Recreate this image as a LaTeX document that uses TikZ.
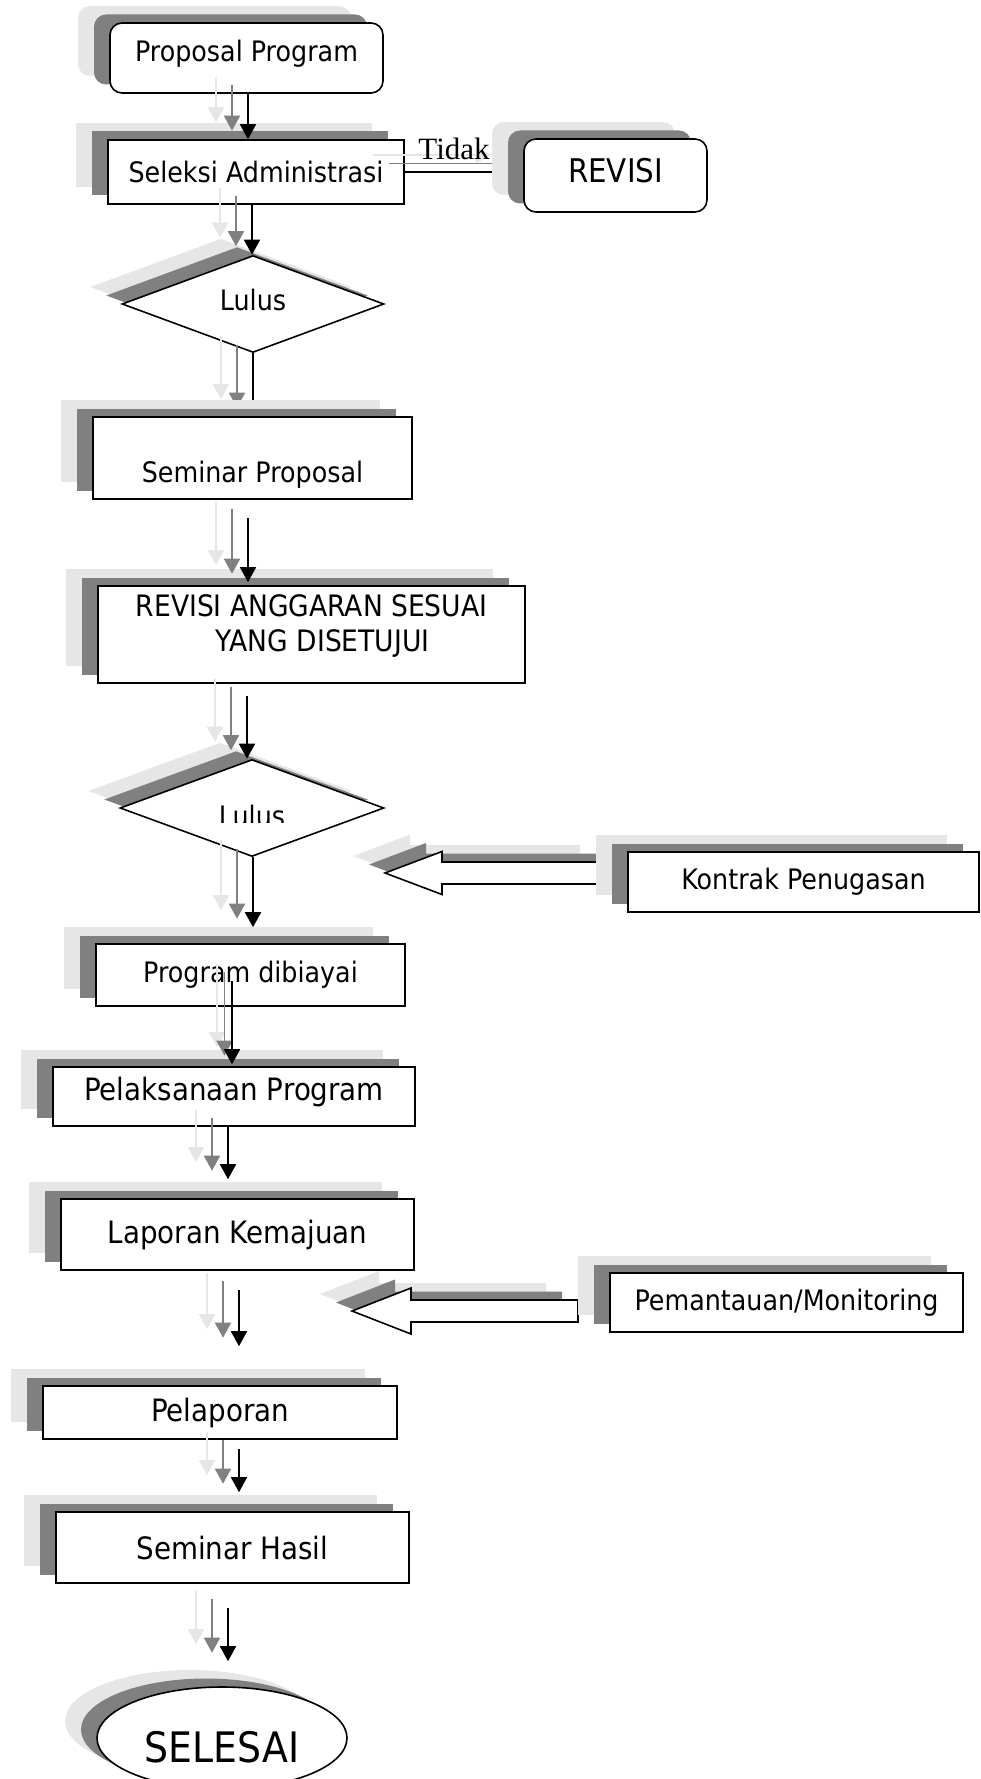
\documentclass[tikz,border=0pt]{standalone}
\usepackage{fontspec}
\setmainfont{DejaVu Sans}[FakeStretch=0.9]
\newfontfamily\tidakfont{Liberation Serif}
\usetikzlibrary{shapes.geometric,shadows,arrows.meta}
\definecolor{shlight}{RGB}{230,230,230}
\definecolor{shdark}{RGB}{128,128,128}
\pgfdeclarelayer{front}
\pgfsetlayers{main,front}

\tikzset{
  shadowed/.style={
    general shadow={fill=shlight,draw=none,shadow xshift=-32pt,shadow yshift=17pt},
    general shadow={fill=shdark,draw=none,shadow xshift=-16pt,shadow yshift=8.5pt},
    draw=black,fill=white,line width=1.6pt},
  box/.style={shadowed,rectangle,inner sep=0pt,font=\fontsize{28.2}{34}\selectfont},
  bigbox/.style={box,font=\fontsize{30.8}{37}\selectfont},
  rbox/.style={box,rounded corners=12pt},
  decision/.style={shadowed,diamond,inner sep=0pt,font=\fontsize{28.2}{34}\selectfont},
  terminal/.style={shadowed,ellipse,inner sep=0pt,font=\fontsize{42}{50}\selectfont},
  arr/.style={line width=1.8pt,-{Triangle[width=16pt,length=15pt]}}
}

% panah bertumpuk: abu muda, abu tua, hitam
\newcommand{\panah}[4][16]{%
  \coordinate (s) at (#2);
  \foreach \col/\k in {shlight/2,shdark/1,black/0}
    \draw[arr,color=\col,shorten >=#4,
      transform canvas={shift={(-\k*#1,-\k*8.5)}}] (s) -- (s |- #3);
}
% panah blok ke kiri
\newcommand{\blokpanah}[5]{%
  \draw[shadowed] (#1,#2) -- (#3,#2-#5) -- (#3,#2-11) -- (#4,#2-11)
    -- (#4,#2+11) -- (#3,#2+11) -- (#3,#2+#5) -- cycle;
}

\begin{document}
\begin{tikzpicture}[x=1pt,y=-1pt]
\useasboundingbox (0,0) rectangle (980,1779);

% alur utama
\node[rbox,minimum width=273pt,minimum height=70pt,text height=21.4pt,text depth=13.7pt] (prop) at (246.5,58) {Proposal Program};
\node[box,minimum width=296pt,minimum height=64pt] (selek) at (256,172) {Seleksi Administrasi};
\node[decision,minimum width=262pt,minimum height=97pt,text height=21pt,text depth=9pt] (lulusa) at (253,304) {Lulus};
\node[box,minimum width=427pt,minimum height=97pt,
      label={[yshift=9pt,align=center,inner sep=0pt,font=\fontsize{29.5}{35}\selectfont]center:
      REVISI ANGGARAN SESUAI\\ \hspace*{22pt}YANG DISETUJUI}] (revang) at (311.5,634.5) {};
\node[decision,minimum width=264pt,minimum height=97pt] (lulusb) at (252,808) {};
\begin{scope}
  \clip (200,780) rectangle (305,822);
  \node[font=\fontsize{28.2}{34}\selectfont,inner sep=0pt,anchor=base] (lulusbtext) at (252,826) {Lulus};
\end{scope}
\node[box,minimum width=309pt,minimum height=62pt] (dib) at (250.5,975) {Program dibiayai};
\node[bigbox,minimum width=362pt,minimum height=59pt,text height=22.5pt,text depth=14pt] (pelak) at (234,1096.5) {Pelaksanaan Program};
\node[bigbox,minimum width=353pt,minimum height=71pt] (lap) at (237.5,1234.5) {Laporan Kemajuan};
\node[bigbox,minimum width=354pt,minimum height=53pt] (pelap) at (220,1412.5) {Pelaporan};
\node[bigbox,minimum width=353pt,minimum height=71pt] (semh) at (232.5,1547.5) {Seminar Hasil};
\node[terminal,minimum width=250pt,minimum height=102pt,text height=48pt,text depth=0pt] (selesai) at (222,1738) {SELESAI};

% masukan dari samping
\blokpanah{385}{873}{442}{612}{21.5}
\blokpanah{352}{1311}{411}{578}{23}
\node[box,minimum width=353pt,minimum height=59pt] (pemantau) at (786.5,1302.5) {Pemantauan/Monitoring};

\begin{pgfonlayer}{front}
\node[rbox,minimum width=183pt,minimum height=73pt,text height=23.8pt,text depth=10pt,
      font=\fontsize{32.6}{39}\selectfont] (revisi) at (615.5,175.5) {REVISI};
\node[box,minimum width=319pt,minimum height=82pt,text height=48pt,text depth=0pt] (sem) at (252.5,458) {Seminar Proposal};
\node[box,minimum width=351pt,minimum height=60pt] (kontrak) at (803.5,882) {Kontrak Penugasan};
\end{pgfonlayer}

% penghubung
\panah{[xshift=1.5pt]prop.south}{selek.north}{0pt}
\panah{[xshift=-4pt]selek.south}{lulusa.north}{0pt}
\foreach \col/\k in {shlight/2,shdark/1,black/0}
  \draw[arr,color=\col,transform canvas={shift={(-\k*16,-\k*8.5)}}]
    (selek.east) -- (selek.east -| revisi.west);
\node[font=\tidakfont\fontsize{31}{36}\selectfont,inner sep=0pt,anchor=base] (tidak) at (454,160) {Tidak};
\panah{lulusa.south}{sem.north}{0pt}
\panah{[xshift=-4.5pt,yshift=-18pt]sem.south}{revang.north}{3pt}
\panah{[xshift=-64.5pt,yshift=-12pt]revang.south}{lulusb.north}{0pt}
\panah{[xshift=1pt]lulusb.south}{dib.north}{16pt}
\panah[7.5]{[xshift=-18.5pt,yshift=26pt]dib.south}{pelak.north}{2pt}
\panah{[xshift=-6pt]pelak.south}{lap.north}{19pt}
\panah{[xshift=1.5pt,yshift=-19pt]lap.south}{pelap.north}{39pt}
\panah{[xshift=19pt,yshift=-9pt]pelap.south}{semh.north}{19pt}
\panah{[xshift=-4.5pt,yshift=-24pt]semh.south}{selesai.north}{25pt}
\end{tikzpicture}
\end{document}
